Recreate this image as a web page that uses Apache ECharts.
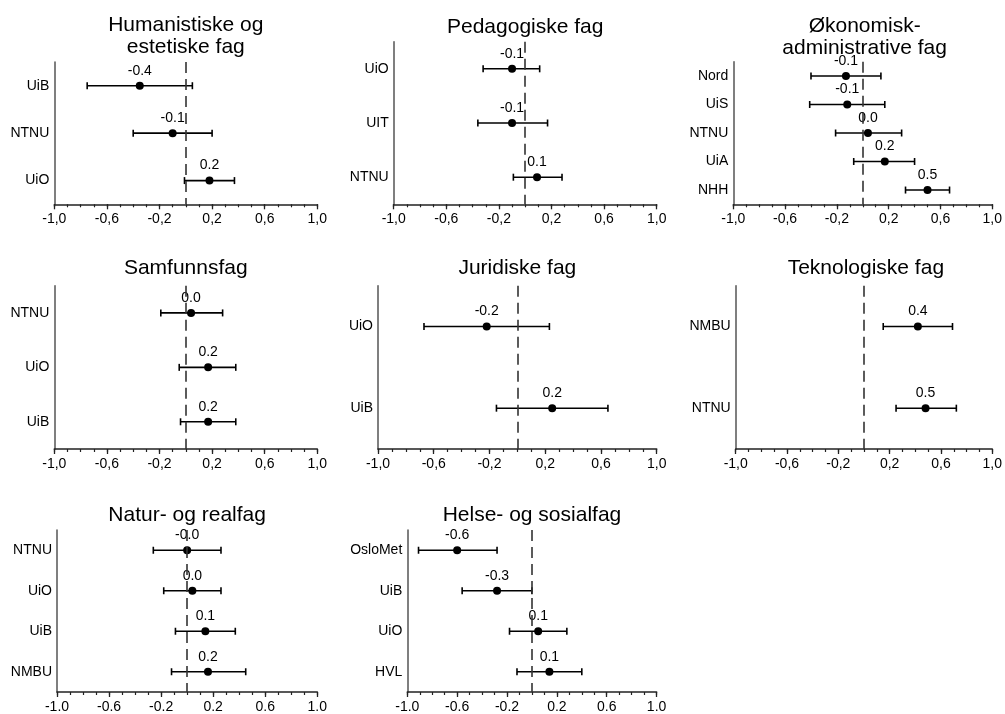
<!DOCTYPE html>
<html>
<head>
<meta charset="utf-8">
<script src="https://cdn.jsdelivr.net/npm/echarts@6/dist/echarts.min.js"></script>
<style>
  html, body { margin: 0; padding: 0; background: #fff; }
  #chart { width: 1005px; height: 714px; }
</style>
</head>
<body>
<div id="chart"></div>
<script>
// ---------- DATA ----------
const panelTitles = [
  'Humanistiske og\nestetiske fag',
  'Pedagogiske fag',
  'Økonomisk-\nadministrative fag',
  'Samfunnsfag',
  'Juridiske fag',
  'Teknologiske fag',
  'Natur- og realfag',
  'Helse- og sosialfag'
];

const humCats = ['UiB', 'NTNU', 'UiO'];
const humEst  = [-0.35, -0.10, 0.18];
const humLo   = [-0.75, -0.40, -0.01];
const humHi   = [0.05, 0.20, 0.37];
const humLab  = ['-0.4', '-0.1', '0.2'];

const pedCats = ['UiO', 'UIT', 'NTNU'];
const pedEst  = [-0.10, -0.10, 0.09];
const pedLo   = [-0.32, -0.36, -0.09];
const pedHi   = [0.11, 0.17, 0.28];
const pedLab  = ['-0.1', '-0.1', '0.1'];

const okoCats = ['Nord', 'UiS', 'NTNU', 'UiA', 'NHH'];
const okoEst  = [-0.13, -0.12, 0.04, 0.17, 0.50];
const okoLo   = [-0.40, -0.41, -0.21, -0.07, 0.33];
const okoHi   = [0.14, 0.17, 0.30, 0.40, 0.67];
const okoLab  = ['-0.1', '-0.1', '0.0', '0.2', '0.5'];

const samCats = ['NTNU', 'UiO', 'UiB'];
const samEst  = [0.04, 0.17, 0.17];
const samLo   = [-0.19, -0.05, -0.04];
const samHi   = [0.28, 0.38, 0.38];
const samLab  = ['0.0', '0.2', '0.2'];

const jurCats = ['UiO', 'UiB'];
const jurEst  = [-0.22, 0.25];
const jurLo   = [-0.67, -0.15];
const jurHi   = [0.23, 0.65];
const jurLab  = ['-0.2', '0.2'];

const tekCats = ['NMBU', 'NTNU'];
const tekEst  = [0.42, 0.48];
const tekLo   = [0.15, 0.25];
const tekHi   = [0.69, 0.72];
const tekLab  = ['0.4', '0.5'];

const natCats = ['NTNU', 'UiO', 'UiB', 'NMBU'];
const natEst  = [-0.00, 0.04, 0.14, 0.16];
const natLo   = [-0.26, -0.18, -0.09, -0.12];
const natHi   = [0.26, 0.26, 0.37, 0.45];
const natLab  = ['-0.0', '0.0', '0.1', '0.2'];

const helCats = ['OsloMet', 'UiB', 'UiO', 'HVL'];
const helEst  = [-0.60, -0.28, 0.05, 0.14];
const helLo   = [-0.91, -0.56, -0.18, -0.12];
const helHi   = [-0.28, 0.00, 0.28, 0.40];
const helLab  = ['-0.6', '-0.3', '0.1', '0.1'];

const tickValues = [-1.0, -0.6, -0.2, 0.2, 0.6, 1.0];
const referenceValue = 0;
const axisMin = -1;
const axisMax = 1;
const minorStep = 0.1;

// ---------- LAYOUT ----------
const panels = [
  { cats: humCats, est: humEst, lo: humLo, hi: humHi, lab: humLab },
  { cats: pedCats, est: pedEst, lo: pedLo, hi: pedHi, lab: pedLab },
  { cats: okoCats, est: okoEst, lo: okoLo, hi: okoHi, lab: okoLab },
  { cats: samCats, est: samEst, lo: samLo, hi: samHi, lab: samLab },
  { cats: jurCats, est: jurEst, lo: jurLo, hi: jurHi, lab: jurLab },
  { cats: tekCats, est: tekEst, lo: tekLo, hi: tekHi, lab: tekLab },
  { cats: natCats, est: natEst, lo: natLo, hi: natHi, lab: natLab },
  { cats: helCats, est: helEst, lo: helLo, hi: helHi, lab: helLab }
];

const gridBoxes = [
  { left: 54.3,  top: 62,    width: 263,   height: 142.3, titleTop: 14 },
  { left: 393.7, top: 41.7,  width: 263,   height: 162.6, titleTop: 16 },
  { left: 733.3, top: 61.7,  width: 262.7, height: 142.6, titleTop: 15 },
  { left: 54.3,  top: 285.7, width: 263,   height: 163.3, titleTop: 257 },
  { left: 378,   top: 285.7, width: 278.7, height: 163.3, titleTop: 257 },
  { left: 735.7, top: 285.7, width: 260.3, height: 163.3, titleTop: 257 },
  { left: 57,    top: 530,   width: 260.3, height: 162.3, titleTop: 504.5 },
  { left: 407.3, top: 530,   width: 249.3, height: 162.3, titleTop: 504.5 }
];
const commaDecimal = [true, true, true, true, true, true, false, false];

const FONT = 'Liberation Sans, Arial, sans-serif';
const SMALL = 14;
const grids = [], xAxes = [], yAxes = [], titles = [], series = [];

panels.forEach((p, i) => {
  const g = gridBoxes[i];
  grids.push({ left: g.left, top: g.top, width: g.width, height: g.height, containLabel: false });
  titles.push({
    text: panelTitles[i],
    left: g.left + g.width / 2,
    top: g.titleTop,
    textAlign: 'center',
    padding: 0,
    textStyle: { fontFamily: FONT, fontSize: 21, fontWeight: 'normal', color: '#000', lineHeight: 22 }
  });
  xAxes.push({
    type: 'value', gridIndex: i, min: axisMin, max: axisMax, position: 'bottom',
    axisLine: { show: true, onZero: false, lineStyle: { color: '#222', width: 1.5 } },
    axisTick: { show: true, customValues: tickValues, length: 5, lineStyle: { color: '#222', width: 1.3 } },
    axisLabel: {
      show: true, customValues: tickValues, margin: 8,
      fontFamily: FONT, fontSize: SMALL, color: '#000',
      formatter: v => {
        const s = Number(v).toFixed(1);
        return commaDecimal[i] ? s.replace('.', ',') : s;
      }
    },
    splitLine: { show: false }
  });
  yAxes.push({
    type: 'category', gridIndex: i, data: p.cats, inverse: true, position: 'left',
    axisLine: { show: true, onZero: false, lineStyle: { color: '#555', width: 1.5 } },
    axisTick: { show: false },
    axisLabel: { fontFamily: FONT, fontSize: SMALL, color: '#000', margin: 5 },
    splitLine: { show: false }
  });
});

// minor-tick axes (every 0.1)
panels.forEach((p, i) => {
  xAxes.push({
    type: 'value', gridIndex: i, min: axisMin, max: axisMax, interval: minorStep, position: 'bottom',
    axisLine: { show: false, onZero: false },
    axisTick: { show: true, length: 3, lineStyle: { color: '#222', width: 1.2 } },
    axisLabel: { show: false },
    splitLine: { show: false }
  });
});

panels.forEach((p, i) => {
  // reference line
  series.push({
    type: 'scatter', xAxisIndex: i, yAxisIndex: i, data: [], silent: true, z: 1,
    markLine: {
      silent: true, symbol: 'none', animation: false,
      label: { show: false },
      lineStyle: { type: [11, 6], color: '#333', width: 1.6 },
      emphasis: { disabled: true },
      data: [{ xAxis: referenceValue }]
    }
  });
  // error bars
  series.push({
    type: 'custom', xAxisIndex: i, yAxisIndex: i, z: 3, silent: true,
    data: p.cats.map((c, k) => [p.lo[k], p.hi[k], k]),
    encode: { x: [0, 1], y: 2 },
    renderItem: (params, api) => {
      const a = api.coord([api.value(0), api.value(2)]);
      const b = api.coord([api.value(1), api.value(2)]);
      const h = 3.5;
      const st = { stroke: '#000', lineWidth: 1.6 };
      return {
        type: 'group',
        children: [
          { type: 'line', shape: { x1: a[0], y1: a[1], x2: b[0], y2: b[1] }, style: st },
          { type: 'line', shape: { x1: a[0], y1: a[1] - h, x2: a[0], y2: a[1] + h }, style: st },
          { type: 'line', shape: { x1: b[0], y1: b[1] - h, x2: b[0], y2: b[1] + h }, style: st }
        ]
      };
    }
  });
  // point estimates
  series.push({
    type: 'scatter', xAxisIndex: i, yAxisIndex: i, z: 4,
    symbol: 'circle', symbolSize: 8,
    itemStyle: { color: '#000', opacity: 1 },
    data: p.cats.map((c, k) => [p.est[k], k]),
    label: {
      show: true, position: 'top', distance: 4,
      fontFamily: FONT, fontSize: SMALL, color: '#000',
      formatter: prm => p.lab[prm.dataIndex]
    }
  });
});

const chart = echarts.init(document.getElementById('chart'), null, { renderer: 'canvas' });
chart.setOption({
  animation: false,
  backgroundColor: '#fff',
  title: titles,
  grid: grids,
  xAxis: xAxes,
  yAxis: yAxes,
  series: series
});
</script>
</body>
</html>
